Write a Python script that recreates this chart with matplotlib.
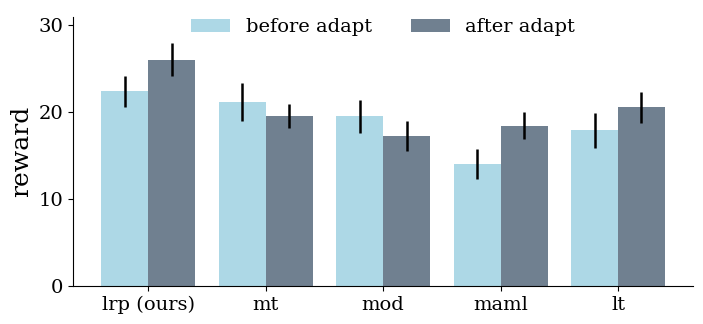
import matplotlib
matplotlib.use("Agg")
import matplotlib.pyplot as plt
import numpy as np

categories = ["lrp (ours)", "mt", "mod", "maml", "lt"]
before = [22.35, 21.1, 19.5, 14.0, 17.9]
before_err = [1.75, 2.2, 1.9, 1.7, 2.0]
after = [26.0, 19.5, 17.2, 18.4, 20.5]
after_err = [1.9, 1.35, 1.7, 1.55, 1.75]

plt.rcParams['font.family'] = ['DejaVu Serif']
fig, ax = plt.subplots(figsize=(7.03, 3.24), dpi=100)
x = np.arange(len(categories))
w = 0.4
ax.bar(x - w/2, before, w, color="lightblue", label="before adapt",
       yerr=before_err, error_kw=dict(ecolor="black", elinewidth=1.8, capsize=0))
ax.bar(x + w/2, after, w, color="slategray", label="after adapt",
       yerr=after_err, error_kw=dict(ecolor="black", elinewidth=1.8, capsize=0))
ax.set_xticks(x)
ax.set_xticklabels(categories, fontsize=14)
ax.tick_params(axis='y', labelsize=14)
ax.set_yticks([0, 10, 20, 30])
ax.set_ylim(0, 30.9)
ax.set_ylabel("reward", fontsize=18)
ax.spines['top'].set_visible(False)
ax.spines['right'].set_visible(False)
ax.legend(loc="upper center", ncol=2, frameon=False, fontsize=14,
          bbox_to_anchor=(0.5, 1.06), columnspacing=2.0)
fig.subplots_adjust(left=0.104, right=0.986, bottom=0.117, top=0.948)
fig.savefig("out.png", dpi=100)
